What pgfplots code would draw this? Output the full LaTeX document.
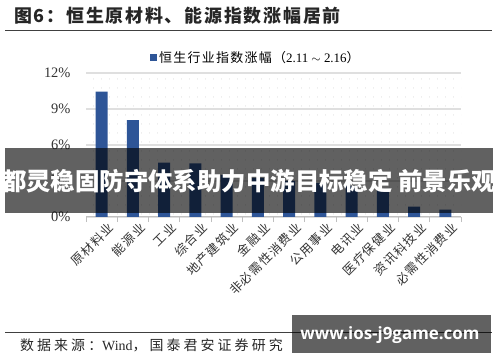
\documentclass[border=0pt]{standalone}
\usepackage{pgfplots}
\pgfplotsset{compat=1.18}
\usepackage{fontspec}
\setmainfont{Liberation Serif}
\newfontfamily\cjk{Noto Sans CJK SC}
\newfontfamily\cjkls{Noto Sans CJK SC}[LetterSpace=10]
\newfontfamily\cjkwide{Noto Sans CJK SC}[LetterSpace=22]
\newfontfamily\wm{Open Sans}
\usetikzlibrary{patterns.meta}
\definecolor{barblue}{HTML}{2E5597}
\tikzdeclarepattern{
  name=sparsedots,
  type=uncolored,
  bounding box={(0,0) and (7.5bp,9bp)},
  tile size={(7.5bp,9bp)},
  code={\pgfpathcircle{\pgfpoint{3.75bp}{4.5bp}}{0.45bp}\pgfusepath{fill}}
}
\begin{document}
\begin{tikzpicture}
\path (0bp,0bp) rectangle (500bp,362bp);
\node[anchor=west, font=\cjkls\bfseries\fontsize{18}{20}\selectfont, text=black!85, inner sep=0] at (14bp,346bp) {图6：恒生原材料、能源指数涨幅居前};
\draw[black!75, line width=0.8bp] (5bp,332bp) -- (492bp,332bp);
\begin{axis}[
  name=ax,
  at={(86bp,145bp)}, anchor=south west,
  width=375bp, height=144bp, scale only axis,
  ybar, bar width=12bp,
  xmin=-0.5, xmax=11.5, ymin=0, ymax=12,
  axis x line*=bottom, axis y line*=left,
  y axis line style={draw=none},
  x axis line style={gray!50, line width=1bp, -},
  xtick={0,...,11},
  xticklabels={原材料业,能源业,工业,综合业,地产建筑业,金融业,非必需性消费业,公用事业,电讯业,医疗保健业,资讯科技业,必需性消费业},
  xticklabel style={rotate=45, anchor=north east, inner sep=1bp, font=\cjkls\fontsize{12.5}{13}\selectfont, text=black!80, xshift=2bp, yshift=-6bp},
  major tick length=0pt,
  extra x ticks={-0.5,0.5,...,11.5},
  extra x tick labels={},
  extra x tick style={major tick length=5bp, tick align=outside, tick style={gray!50, line width=1bp}},
  ytick={0,3,6,9,12},
  yticklabel={\pgfmathprintnumber{\tick}\%},
  yticklabel style={font=\fontsize{14.5}{15}\selectfont, text=black!80, anchor=east, xshift=-12bp},
  ytick style={draw=none},
  /pgf/number format/assume math mode=true,
  ymajorgrids, major grid style={gray!25, line width=1.3bp},
  legend style={at={(rel axis cs:0.453,1)}, anchor=center, yshift=15bp, draw=none, fill=none, font=\cjkls\fontsize{13}{14}\selectfont, inner sep=0pt},
  legend image code/.code={\fill[barblue] (0bp,-3.5bp) rectangle (7bp,3.5bp);},
  clip=false,
]
\fill[pattern={sparsedots}, pattern color=gray!45] (rel axis cs:0,0) rectangle (rel axis cs:1,1);
\addplot[fill=barblue, draw=none] coordinates {
(0,10.45) (1,8.08) (2,4.53) (3,4.47) (4,3.52) (5,3.25) (6,3.0) (7,2.85) (8,2.6) (9,2.35) (10,0.86) (11,0.62)
};
\addlegendentry{恒生行业指数涨幅（{\rmfamily 2.11 $\sim$ 2.16}）}
\end{axis}
\fill[black, opacity=0.62] (5bp,149bp) rectangle (493bp,214bp);
\node[font=\cjk\bfseries\fontsize{24.5}{26}\selectfont, text=white, inner sep=0] at (249bp,181bp) {都灵稳固防守体系助力中游目标稳定 前景乐观};
\draw[black!75, line width=0.8bp] (5bp,30bp) -- (492bp,30bp);
\node[anchor=west, font=\cjkwide\fontsize{14}{15}\selectfont, text=black!85, inner sep=0] at (20bp,17bp) {数据来源：{\rmfamily Wind}，国泰君安证券研究};
\fill[black, opacity=0.62] (292bp,9bp) rectangle (491bp,47bp);
\node[font=\wm\bfseries\fontsize{17}{18}\selectfont, text=white, inner sep=0] at (390bp,27bp) {www.ios-j9game.com};
\end{tikzpicture}
\end{document}
